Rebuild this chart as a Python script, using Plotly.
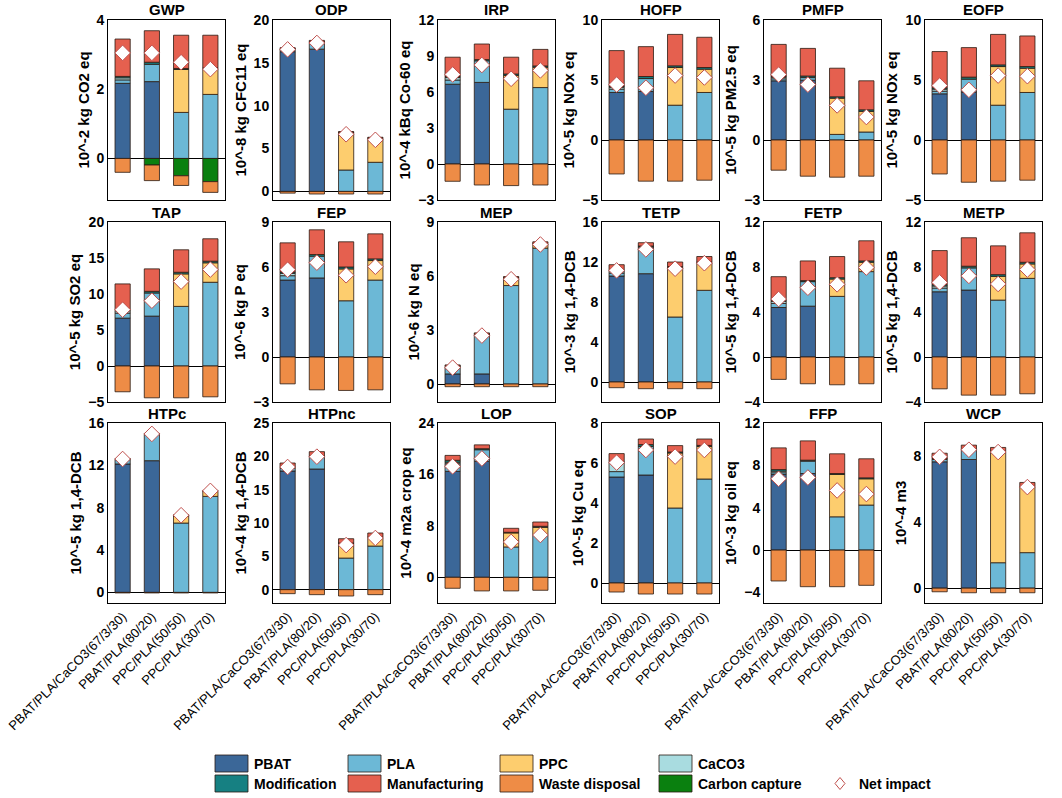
import plotly.graph_objects as go

N = None

# impact categories, y-axis units and sample names
categories = ["GWP", "ODP", "IRP", "HOFP", "PMFP", "EOFP",
              "TAP", "FEP", "MEP", "TETP", "FETP", "METP",
              "HTPc", "HTPnc", "LOP", "SOP", "FFP", "WCP"]
units = ["10^-2 kg CO2 eq", "10^-8 kg CFC11 eq", "10^-4 kBq Co-60 eq", "10^-5 kg NOx eq",
         "10^-5 kg PM2.5 eq", "10^-5 kg NOx eq", "10^-5 kg SO2 eq", "10^-6 kg P eq",
         "10^-6 kg N eq", "10^-3 kg 1,4-DCB", "10^-5 kg 1,4-DCB", "10^-5 kg 1,4-DCB",
         "10^-5 kg 1,4-DCB", "10^-4 kg 1,4-DCB", "10^-4 m2a crop eq", "10^-5 kg Cu eq",
         "10^-3 kg oil eq", "10^-4 m3"]
samples = ["PBAT/PLA/CaCO3(67/3/30)", "PBAT/PLA(80/20)", "PPC/PLA(50/50)", "PPC/PLA(30/70)"]

# axis ranges / tick steps per panel
y_ranges = [[-1.2, 4], [-1, 20], [-3, 12], [-5, 10], [-3, 6], [-5, 10],
            [-5, 20], [-3, 9], [-1, 9], [-2, 16], [-4, 12], [-4, 12],
            [-1, 16], [-2, 25], [-4, 24], [-1, 8], [-5, 12], [-0.9, 10]]
y_dticks = [2, 5, 3, 5, 3, 5, 5, 3, 3, 4, 4, 4, 4, 5, 8, 2, 4, 4]

# contributions, one row per impact category, one value per sample
pbat = [[2.17, 2.22, N, N], [16.3, 16.6, N, N], [6.65, 6.8, N, N], [3.96, 4.04, N, N],
        [2.96, 2.99, N, N], [3.85, 3.99, N, N], [6.65, 6.93, N, N], [5.13, 5.27, N, N],
        [0.56, 0.56, N, N], [10.6, 10.83, N, N], [4.4, 4.52, N, N], [5.8, 5.95, N, N],
        [12.13, 12.44, N, N], [17.8, 18.1, N, N], [16.48, 18.03, N, N], [5.3, 5.4, N, N],
        [7.14, 7.23, N, N], [7.65, 7.79, N, N]]
pla = [[0.10, 0.50, 1.33, 1.85], [0.3, 0.8, 2.5, 3.4], [0.35, 1.8, 4.57, 6.37],
       [0.28, 1.08, 2.9, 3.96], [0.1, 0.13, 0.28, 0.4], [0.22, 1.08, 2.9, 3.96],
       [0.7, 3.21, 8.28, 11.63], [0.29, 1.45, 3.75, 5.13], [0.37, 2.19, 5.47, 7.55],
       [0.3, 2.67, 6.5, 9.17], [0.36, 2.18, 5.39, 7.59], [0.33, 1.97, 5.06, 6.99],
       [0.41, 2.52, 6.55, 9.07], [0.4, 1.9, 4.74, 6.54], [1.19, 1.81, 4.72, 6.63],
       [0.27, 1.43, 3.75, 5.2], [0.16, 1.17, 3.14, 4.25], [0.14, 0.57, 1.54, 2.15]]
ppc = [[N, N, 1.24, 0.72], [N, N, 4.4, 2.8], [N, N, 2.8, 1.69], [N, N, 3.14, 1.94],
       [N, N, 1.81, 1.03], [N, N, 3.22, 2.02], [N, N, 4.51, 2.7], [N, N, 2.12, 1.3],
       [N, N, 0.43, 0.24], [N, N, 4.95, 2.73], [N, N, 1.54, 0.83], [N, N, 2.11, 1.28],
       [N, N, 0.69, 0.47], [N, N, 2.2, 1.26], [N, N, 2.18, 1.14], [N, N, 2.75, 1.63],
       [N, N, 4.0, 2.48], [N, N, 6.72, 3.98]]
caco3 = [[0.06, N, N, N], [0.05, N, N, N], [0.2, N, N, N], [0.16, N, N, N],
         [0.08, N, N, N], [0.17, N, N, N], [0.32, N, N, N], [0.16, N, N, N],
         [0.05, N, N, N], [0.2, N, N, N], [0.18, N, N, N], [0.18, N, N, N],
         [0.05, N, N, N], [0.2, N, N, N], [0.23, N, N, N], [0.46, N, N, N],
         [0.15, N, N, N], [0.05, N, N, N]]
modification = [[0.04, 0.06, 0.03, 0.05], [0.02, 0.02, 0.02, 0.02], [0.1, 0.1, 0.13, 0.11],
                [0.1, 0.17, 0.14, 0.14], [0.05, 0.08, 0.07, 0.08], [0.11, 0.17, 0.14, 0.14],
                [0.14, 0.23, 0.23, 0.23], [0.09, 0.11, 0.13, 0.11], [0.02, 0.02, 0.02, 0.02],
                [0.07, 0.1, 0.1, 0.1], [0.12, 0.09, 0.12, 0.12], [0.12, 0.15, 0.15, 0.15],
                [0.02, 0.02, 0.02, 0.02], [0.05, 0.1, 0.06, 0.1], [0.3, 0.16, 0.1, 0.16],
                [0.05, 0.09, 0.05, 0.05], [0.15, 0.09, 0.09, 0.09], [0.02, 0.02, 0.02, 0.02]]
manufacturing = [[1.08, 0.91, 0.96, 0.94], [0.1, 0.2, 0.05, 0.1], [1.6, 1.3, 1.4, 1.38],
                 [2.95, 2.49, 2.62, 2.52], [1.59, 1.38, 1.43, 1.45], [3.02, 2.46, 2.54, 2.55],
                 [3.59, 3.12, 3.12, 3.11], [1.94, 1.65, 1.68, 1.67], [0.06, 0.07, 0.05, 0.09],
                 [0.56, 0.33, 0.45, 0.55], [2.08, 1.75, 1.88, 1.79], [3.03, 2.53, 2.56, 2.62],
                 [0.04, 0.04, 0.08, 0.08], [0.55, 0.6, 0.64, 0.6], [0.76, 0.6, 0.62, 0.67],
                 [0.39, 0.28, 0.32, 0.32], [2.05, 1.82, 1.86, 1.8], [0.31, 0.28, 0.24, 0.25]]
waste_disposal = [[-0.40, -0.45, -0.28, -0.31], [-0.2, -0.3, -0.3, -0.3], [-1.44, -1.75, -1.8, -1.75],
                  [-2.83, -3.43, -3.43, -3.35], [-1.51, -1.81, -1.86, -1.81], [-2.83, -3.52, -3.43, -3.35],
                  [-3.58, -4.42, -4.42, -4.28], [-1.79, -2.19, -2.23, -2.19], [-0.15, -0.15, -0.15, -0.15],
                  [-0.57, -0.67, -0.67, -0.67], [-1.99, -2.38, -2.47, -2.38], [-2.83, -3.39, -3.39, -3.27],
                  [-0.05, -0.05, -0.05, -0.05], [-0.6, -0.75, -0.95, -0.75], [-1.71, -2.12, -2.12, -2.02],
                  [-0.45, -0.55, -0.55, -0.55], [-2.92, -3.46, -3.46, -3.33], [-0.22, -0.28, -0.28, -0.28]]
carbon_capture_gwp = [N, -0.19, -0.50, -0.67]  # only GWP has carbon capture

comp_names = ["PBAT", "PLA", "PPC", "CaCO3", "Modification", "Manufacturing",
              "Carbon capture", "Waste disposal"]
comp_colors = ["#3B6798", "#6CB8D6", "#FDCD6E", "#A9DCE0", "#168082", "#E5604F",
               "#0A800F", "#EE8C46"]
outline = "#2a1a12"
net_edge = "#C0504D"

W, H = 1062, 798


def px(x):
    return x / W


def py(y):
    return 1 - y / H


col_left = [108, 273, 438, 602, 764, 925]
pw = 117
row_top = [20, 222, 423]
ph = 180
font = "Liberation Sans, Arial, sans-serif"

fig = go.Figure()
layout = {}
for i, cat in enumerate(categories):
    ax = "" if i == 0 else str(i + 1)
    cc = carbon_capture_gwp if i == 0 else [N, N, N, N]
    comps = [pbat[i], pla[i], ppc[i], caco3[i], modification[i], manufacturing[i], cc, waste_disposal[i]]
    for name, color, vals in zip(comp_names, comp_colors, comps):
        fig.add_trace(go.Bar(x=samples, y=vals, name=name, width=0.52,
                             marker=dict(color=color, line=dict(color=outline, width=0.8)),
                             xaxis="x" + ax, yaxis="y" + ax, showlegend=False))
    net = [sum(v for v in col if v is not None) for col in zip(*comps)]
    fig.add_trace(go.Scatter(x=samples, y=net, mode="markers", name="Net impact",
                             marker=dict(symbol="diamond", size=12, color="white",
                                         line=dict(color=net_edge, width=1)),
                             xaxis="x" + ax, yaxis="y" + ax, showlegend=False))

    r, c = divmod(i, 6)
    x0, x1 = px(col_left[c]), px(col_left[c] + pw)
    y1, y0 = py(row_top[r]), py(row_top[r] + ph)
    layout["xaxis" + ax] = dict(domain=[x0, x1], anchor="y" + ax, type="category",
                                range=[-0.5, 3.5], showline=True, mirror=True, automargin=False,
                                linecolor="black", linewidth=1, ticks="", showgrid=False,
                                showticklabels=(r == 2), tickangle=-45,
                                tickfont=dict(family=font, size=13, color="black"))
    layout["yaxis" + ax] = dict(domain=[y0, y1], anchor="x" + ax, range=y_ranges[i],
                                tick0=0, dtick=y_dticks[i], showline=True, mirror=True,
                                automargin=False,
                                linecolor="black", linewidth=1, ticks="", showgrid=False,
                                zeroline=True, zerolinecolor="black", zerolinewidth=1,
                                tickfont=dict(family=font, size=14, color="black", weight="bold"),
                                title=dict(text=units[i], standoff=3,
                                           font=dict(family=font, size=15, color="black", weight="bold")))
    fig.add_annotation(x=(x0 + x1) / 2, y=py(row_top[r] - 10), xref="paper", yref="paper",
                       text=cat, showarrow=False, xanchor="center", yanchor="middle",
                       font=dict(family=font, size=15, color="black", weight="bold"))

# legend drawn below the panels
leg_names = ["PBAT", "PLA", "PPC", "CaCO3", "Modification", "Manufacturing",
             "Waste disposal", "Carbon capture"]
leg_colors = ["#3B6798", "#6CB8D6", "#FDCD6E", "#A9DCE0", "#168082", "#E5604F",
              "#EE8C46", "#0A800F"]
leg_x = [215, 348, 500, 659]
leg_y = [755, 775]
for k, (name, color) in enumerate(zip(leg_names, leg_colors)):
    lx, ly = leg_x[k % 4], leg_y[k // 4]
    fig.add_shape(type="rect", xref="paper", yref="paper",
                  x0=px(lx), x1=px(lx + 33), y0=py(ly + 17), y1=py(ly),
                  fillcolor=color, line=dict(color=outline, width=0.8))
    fig.add_annotation(x=px(lx + 37), y=py(ly + 8.5), xref="paper", yref="paper",
                       text=name, showarrow=False, xanchor="left", yanchor="middle",
                       font=dict(family=font, size=14, color="black", weight="bold"))
dx, dy = 840, 783.5
fig.add_shape(type="path", xref="paper", yref="paper",
              path=f"M {px(dx)} {py(dy - 6)} L {px(dx + 5)} {py(dy)} "
                   f"L {px(dx)} {py(dy + 6)} L {px(dx - 5)} {py(dy)} Z",
              fillcolor="white", line=dict(color=net_edge, width=1))
fig.add_annotation(x=px(857), y=py(dy), xref="paper", yref="paper",
                   text="Net impact", showarrow=False, xanchor="left", yanchor="middle",
                   font=dict(family=font, size=14, color="black", weight="bold"))

fig.update_layout(**layout)
fig.update_layout(width=W, height=H, margin=dict(l=0, r=0, t=0, b=0),
                  barmode="relative", bargap=0.4,
                  plot_bgcolor="white", paper_bgcolor="white",
                  font=dict(family=font, color="black"), showlegend=False)

# drop the default page margin so the figure fills the window exactly
fig.write_html("out.html", config={"displayModeBar": False},
               post_script="document.body.style.margin = '0';")
